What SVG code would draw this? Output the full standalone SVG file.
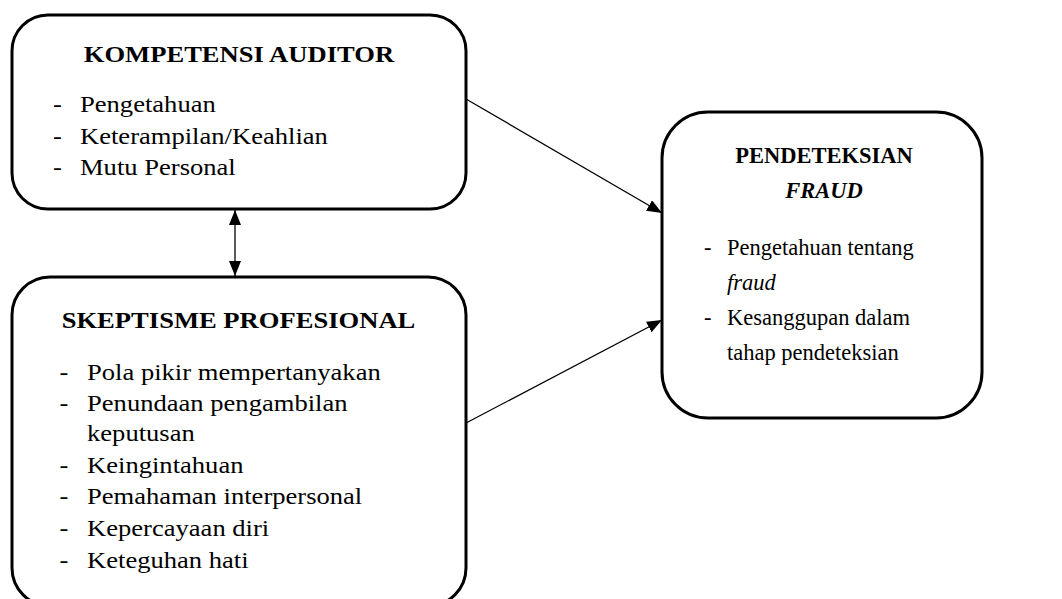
<svg xmlns="http://www.w3.org/2000/svg" width="1062" height="599" viewBox="0 0 1062 599">
<style>
.box{fill:#fff;stroke:#000;stroke-width:3}
.t{font-family:"Liberation Serif","Times New Roman",serif;font-size:23px;fill:#000}
.r{font-size:22.5px}
.b{font-weight:bold;text-anchor:middle}
.i{font-style:italic}
.c{stroke:#000;stroke-width:1.3;fill:none}
</style>
<defs>
<marker id="ah" viewBox="0 0 15 12" refX="15" refY="6" markerWidth="15" markerHeight="12" markerUnits="userSpaceOnUse" orient="auto-start-reverse">
<path d="M0,0 L15,6 L0,12 Z" fill="#000"/>
</marker>
</defs>
<rect width="1062" height="599" fill="#fff"/>
<g id="kompetensi">
<rect class="box" x="12" y="15" width="454" height="194" rx="36" ry="36"/>
<g transform="scale(1.156,1)">
<text class="t b" x="206.7" y="62">KOMPETENSI AUDITOR</text>
<text class="t" x="45.8" y="112">-</text><text class="t" x="69.2" y="112">Pengetahuan</text>
<text class="t" x="45.8" y="144">-</text><text class="t" x="69.2" y="144">Keterampilan/Keahlian</text>
<text class="t" x="45.8" y="175">-</text><text class="t" x="69.2" y="175">Mutu Personal</text>
</g>
</g>
<g id="skeptisme">
<rect class="box" x="12" y="277" width="454" height="329" rx="38" ry="38"/>
<g transform="scale(1.156,1)">
<text class="t b" x="206.3" y="328">SKEPTISME PROFESIONAL</text>
<text class="t" x="51.5" y="380">-</text><text class="t" x="75.3" y="380">Pola pikir mempertanyakan</text>
<text class="t" x="51.5" y="411">-</text><text class="t" x="75.3" y="411">Penundaan pengambilan</text>
<text class="t" x="75.3" y="441">keputusan</text>
<text class="t" x="51.5" y="473">-</text><text class="t" x="75.3" y="473">Keingintahuan</text>
<text class="t" x="51.5" y="504">-</text><text class="t" x="75.3" y="504">Pemahaman interpersonal</text>
<text class="t" x="51.5" y="536">-</text><text class="t" x="75.3" y="536">Kepercayaan diri</text>
<text class="t" x="51.5" y="568">-</text><text class="t" x="75.3" y="568">Keteguhan hati</text>
</g>
</g>
<g id="pendeteksian">
<rect class="box" x="662" y="112" width="320" height="306" rx="46" ry="46"/>
<text class="t r b" x="824" y="163">PENDETEKSIAN</text>
<text class="t r b i" x="824" y="198">FRAUD</text>
<text class="t r" x="704" y="255">-</text><text class="t r" x="727" y="255">Pengetahuan tentang</text>
<text class="t r i" x="727" y="290">fraud</text>
<text class="t r" x="704" y="325">-</text><text class="t r" x="727" y="325">Kesanggupan dalam</text>
<text class="t r" x="727" y="360">tahap pendeteksian</text>
</g>
<g id="connectors">
<line class="c" x1="235" y1="210" x2="235" y2="276" marker-start="url(#ah)" marker-end="url(#ah)"/>
<line class="c" x1="466" y1="99" x2="662" y2="213" marker-end="url(#ah)"/>
<line class="c" x1="466" y1="423" x2="662" y2="320" marker-end="url(#ah)"/>
</g>
</svg>
